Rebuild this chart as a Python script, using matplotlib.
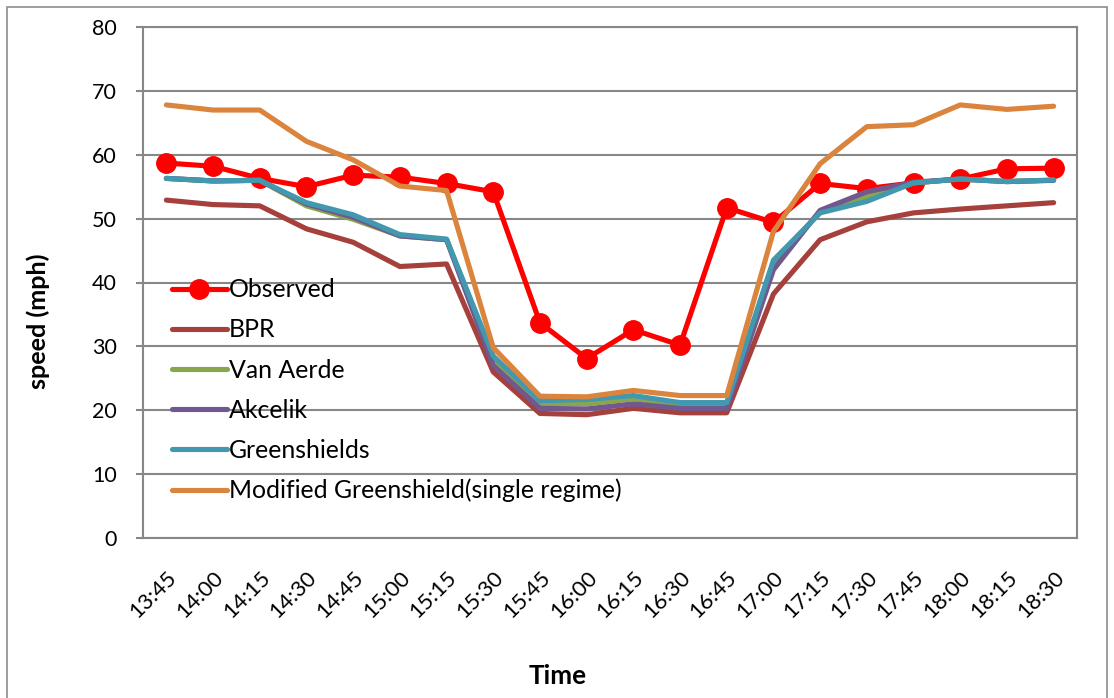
import matplotlib
matplotlib.use("Agg")
import matplotlib.pyplot as plt
from matplotlib.patches import Rectangle

times = ['13:45', '14:00', '14:15', '14:30', '14:45', '15:00', '15:15', '15:30',
         '15:45', '16:00', '16:15', '16:30', '16:45', '17:00', '17:15', '17:30',
         '17:45', '18:00', '18:15', '18:30']
observed = [58.7, 58.2, 56.3, 55.0, 56.8, 56.5, 55.5, 54.2, 33.7, 28.1,
            32.6, 30.2, 51.7, 49.4, 55.5, 54.7, 55.6, 56.2, 57.8, 57.9]
bpr = [52.9, 52.2, 52.0, 48.4, 46.3, 42.5, 42.9, 26.0, 19.5, 19.3,
       20.3, 19.6, 19.6, 38.2, 46.7, 49.5, 50.9, 51.5, 52.0, 52.5]
van_aerde = [56.3, 55.9, 56.0, 52.0, 49.9, 47.3, 46.7, 28.0, 21.0, 21.0,
             21.8, 20.8, 20.8, 43.2, 51.0, 53.5, 55.6, 56.2, 55.8, 56.0]
akcelik = [56.3, 55.9, 56.0, 52.3, 50.2, 47.3, 46.7, 27.0, 20.3, 20.2,
           21.0, 20.3, 20.3, 42.0, 51.3, 54.2, 55.7, 56.2, 55.8, 56.0]
greenshields = [56.3, 55.9, 56.0, 52.5, 50.6, 47.5, 46.8, 28.5, 21.5, 21.7,
                22.3, 21.2, 21.2, 43.5, 50.9, 52.7, 55.6, 56.2, 55.8, 56.05]
modified = [67.8, 67.0, 67.0, 62.1, 59.2, 55.1, 54.4, 29.8, 22.2, 22.1,
            23.1, 22.3, 22.3, 48.0, 58.6, 64.4, 64.7, 67.8, 67.1, 67.6]

series = [
    ("Observed", observed, "#FF0000", True),
    ("BPR", bpr, "#A5403D", False),
    ("Van Aerde", van_aerde, "#8AA64A", False),
    ("Akcelik", akcelik, "#71588F", False),
    ("Greenshields", greenshields, "#4198AF", False),
    ("Modified Greenshield(single regime)", modified, "#DB843D", False),
]

plt.rcParams['font.family'] = ['Lato', 'DejaVu Sans']

W, H = 1114, 698
fig = plt.figure(figsize=(W / 100, H / 100), dpi=100)
renderer = fig.canvas.get_renderer()


def fit_size(text, target_px, weight='normal', base=20):
    t = fig.text(0, 0, text, fontsize=base, fontweight=weight)
    w = t.get_window_extent(renderer).width
    t.remove()
    return base * target_px / w


fs_legend = fit_size("Modified Greenshield(single regime)", 394)
fs_ytick = fit_size("80", 25)
fs_xtick = fit_size("13:45", 57)
fs_ylabel = fit_size("speed (mph)", 137, 'bold')
fs_xlabel = fit_size("Time", 58, 'bold')

fig.patches.append(Rectangle((7 / W, -0.05), 1100 / W, 1 - 7 / H + 0.05,
                             transform=fig.transFigure, fill=False,
                             edgecolor="#8C8C8C", lw=1.2, zorder=0))

ax = fig.add_axes([143 / W, (H - 538) / H, 934 / W, 511 / H])
x = list(range(len(times)))
for i, (name, vals, col, mk) in enumerate(series):
    if mk:
        ax.plot(x, vals, color=col, lw=3.7, marker='o', markersize=14,
                label=name, zorder=3 + i, solid_capstyle='round')
    else:
        ax.plot(x, vals, color=col, lw=3.7, label=name, zorder=3 + i,
                solid_capstyle='round', solid_joinstyle='round')

ax.set_xlim(-0.5, len(times) - 0.5)
ax.set_ylim(0, 80)
ax.set_yticks(range(0, 81, 10))
ax.set_xticks(x)
ax.set_xticklabels(times, rotation=45, ha='right', rotation_mode='anchor',
                   fontsize=fs_xtick)
ax.tick_params(axis='x', length=0, pad=21)
ax.tick_params(axis='y', length=5, color="#878787", width=1.5,
               labelsize=fs_ytick, pad=14)
ax.grid(axis='y', color="#878787", lw=1.5)
ax.set_axisbelow(True)
for s in ax.spines.values():
    s.set_color("#878787")
    s.set_linewidth(1.5)

fig.text(38 / W, 1 - 321 / H, "speed (mph)", rotation=90, ha='center',
         va='center', fontsize=fs_ylabel, fontweight='bold')
fig.text(558 / W, 1 - 676 / H, "Time", ha='center', va='center',
         fontsize=fs_xlabel, fontweight='bold')

fs_px = fs_legend * 100 / 72
leg = ax.legend(loc='upper left', bbox_to_anchor=(0.031, 0.508), frameon=False,
                fontsize=fs_legend, handlelength=55 / fs_px, handletextpad=0.08,
                labelspacing=0.55 + 3.4 / fs_px, borderpad=0, borderaxespad=0)

fig.savefig("out.png", dpi=100)
